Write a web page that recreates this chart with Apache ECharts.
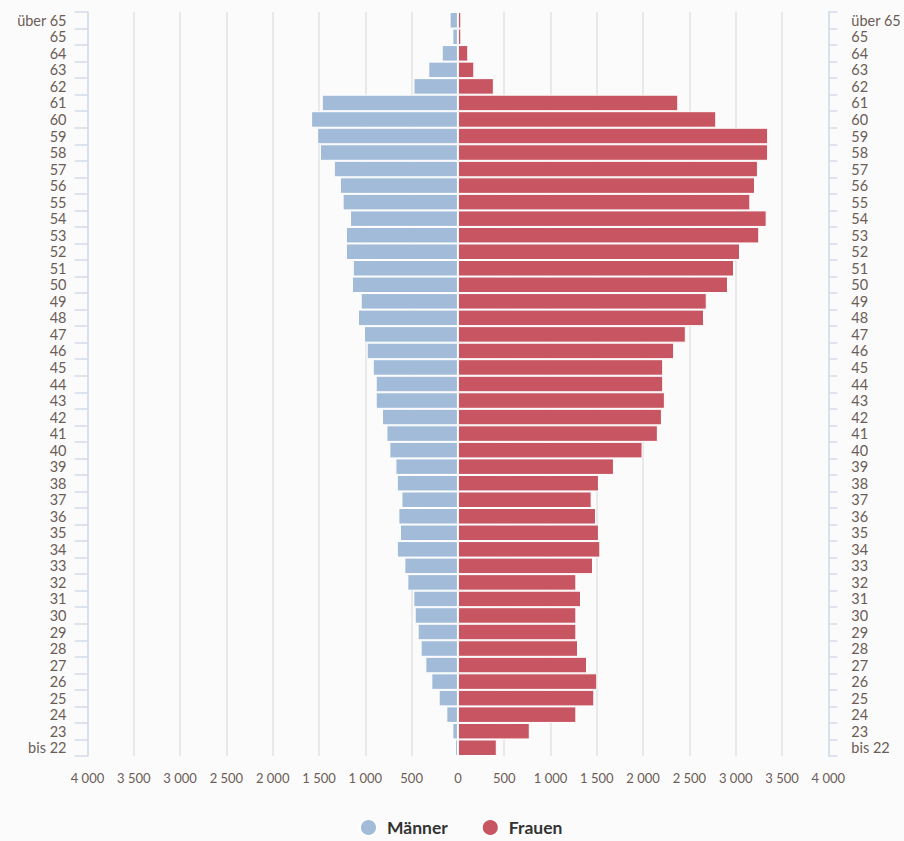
<!DOCTYPE html>
<html>
<head>
<meta charset="utf-8">
<script src="https://cdn.jsdelivr.net/npm/echarts@6/dist/echarts.min.js"></script>
<style>
  html, body { margin: 0; padding: 0; background: #fbfbfb; }
  #chart { width: 904px; height: 841px; }
</style>
</head>
<body>
<div id="chart"></div>
<script>
var categories = ['über 65', '65', '64', '63', '62', '61', '60', '59', '58', '57', '56', '55', '54', '53', '52', '51', '50',
  '49', '48', '47', '46', '45', '44', '43', '42', '41', '40', '39', '38', '37', '36', '35', '34', '33', '32', '31', '30',
  '29', '28', '27', '26', '25', '24', '23', 'bis 22'];

var maenner = [90, 60, 175, 320, 480, 1470, 1585, 1520, 1490, 1340, 1275, 1245, 1165, 1210, 1210, 1135, 1145,
  1050, 1080, 1015, 985, 920, 888, 888, 820, 772, 740, 675, 660, 610, 643, 626, 660, 578, 546, 481, 467,
  435, 403, 352, 287, 208, 125, 60, 32];

var frauen = [37, 37, 112, 177, 388, 2380, 2790, 3350, 3350, 3240, 3208, 3158, 3334, 3254, 3046, 2982, 2917,
  2687, 2658, 2461, 2335, 2217, 2217, 2235, 2203, 2159, 1994, 1685, 1523, 1444, 1491, 1523, 1538, 1459, 1279, 1329, 1279,
  1279, 1297, 1394, 1505, 1473, 1279, 776, 420];

var xTicks = { min: -4000, max: 4000, interval: 500 };

(function() {
  var blue = '#a1bbd9';
  var red = '#c85562';
  var labelColor = '#6b5c56';
  var axisColor = '#d3dce8';
  var font = 'Lato, "Noto Sans", sans-serif';

  function fmt(v) {
    var s = String(Math.abs(v));
    if (s.length > 3) s = s.slice(0, s.length - 3) + ' ' + s.slice(s.length - 3);
    return s;
  }

  var chart = echarts.init(document.getElementById('chart'), null, { renderer: 'svg' });
  chart.setOption({
    animation: false,
    backgroundColor: '#fbfbfb',
    textStyle: { fontFamily: font },
    legend: {
      bottom: -1,
      left: 354,
      icon: 'circle',
      itemWidth: 17,
      itemHeight: 17,
      itemGap: 33,
      textStyle: { color: '#333', fontSize: 17.5, fontWeight: 'bold', fontFamily: font, padding: [0, 0, 0, 5] },
      data: ['Männer', 'Frauen']
    },
    grid: { left: 87.5, right: 74.5, top: 12, bottom: 85, containLabel: false },
    xAxis: {
      type: 'value',
      min: xTicks.min,
      max: xTicks.max,
      interval: xTicks.interval,
      axisLine: { show: false },
      axisTick: { show: false },
      splitLine: { lineStyle: { color: '#e3e3e3', width: 1.5 } },
      axisLabel: { color: labelColor, fontSize: 13, margin: 15, formatter: fmt }
    },
    yAxis: [{
      type: 'category',
      data: categories,
      inverse: true,
      position: 'left',
      axisLine: { show: true, onZero: false, lineStyle: { color: axisColor, width: 1.5 } },
      axisTick: { show: true, inside: false, interval: 0, length: 13, lineStyle: { color: axisColor, width: 1.5 } },
      axisLabel: { interval: 0, color: labelColor, fontSize: 14.5, margin: 21 }
    }, {
      type: 'category',
      data: categories,
      inverse: true,
      position: 'right',
      axisLine: { show: true, onZero: false, lineStyle: { color: axisColor, width: 1.5 } },
      axisTick: { show: true, inside: false, interval: 0, length: 9, lineStyle: { color: axisColor, width: 1.5 } },
      axisLabel: { interval: 0, color: labelColor, fontSize: 14.5, margin: 23 }
    }],
    series: [{
      name: 'Männer',
      type: 'bar',
      stack: 'total',
      yAxisIndex: 0,
      barCategoryGap: '0%',
      data: maenner.map(function(v) { return -v; }),
      itemStyle: { color: blue, borderColor: '#ffffff', borderWidth: 1 }
    }, {
      name: 'Frauen',
      type: 'bar',
      stack: 'total',
      yAxisIndex: 0,
      barCategoryGap: '0%',
      data: frauen,
      itemStyle: { color: red, borderColor: '#ffffff', borderWidth: 1 }
    }]
  });
  window.addEventListener('resize', function() { chart.resize(); });
})();
</script>
</body>
</html>
